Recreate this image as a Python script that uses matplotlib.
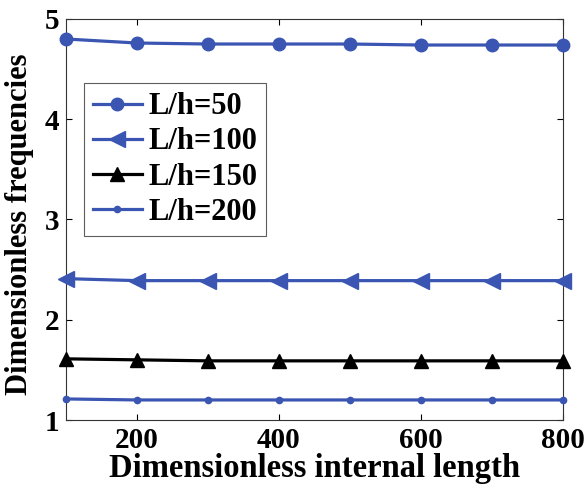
import matplotlib
matplotlib.use("Agg")
import matplotlib.pyplot as plt

x = [100, 200, 300, 400, 500, 600, 700, 800]
lh50 = [4.80, 4.76, 4.75, 4.75, 4.75, 4.74, 4.74, 4.74]
lh100 = [2.41, 2.39, 2.39, 2.39, 2.39, 2.39, 2.39, 2.39]
lh150 = [1.61, 1.60, 1.59, 1.59, 1.59, 1.59, 1.59, 1.59]
lh200 = [1.21, 1.20, 1.20, 1.20, 1.20, 1.20, 1.20, 1.20]
labels = ["L/h=50", "L/h=100", "L/h=150", "L/h=200"]

blue = "#3a55b2"
plt.rcParams['font.family'] = ['Liberation Serif', 'DejaVu Serif']
plt.rcParams['font.weight'] = 'bold'

fig = plt.figure(figsize=(5.87, 4.86), dpi=100)
ax = fig.add_axes([0.1124, 0.1358, 0.8466, 0.8252])

kw = dict(lw=2.3, clip_on=False, zorder=3)
ax.plot(x, lh50, color=blue, marker='o', ms=9, mfc=blue, mec=blue, label=labels[0], **kw)
ax.plot(x, lh100, color=blue, marker='<', ms=11, mfc=blue, mec=blue, label=labels[1], **kw)
ax.plot(x, lh150, color='black', marker='^', ms=10, mfc='black', mec='black', label=labels[2], **kw)
ax.plot(x, lh200, color=blue, marker='.', ms=9, mfc=blue, mec=blue, label=labels[3], **kw)

ax.set_xlim(100, 800)
ax.set_ylim(1, 5)
ax.set_xticks([200, 400, 600, 800])
ax.set_yticks([1, 2, 3, 4, 5])
ax.tick_params(direction='in', top=True, right=True, labelsize=21, length=4, width=0.8, pad=5)
for lab in ax.get_xticklabels() + ax.get_yticklabels():
    lab.set_fontweight('bold')
for s in ax.spines.values():
    s.set_linewidth(0.8)
    s.set_color('#333333')

ax.set_xlabel("Dimensionless internal length", fontsize=23.5, fontweight='bold', labelpad=-1)
ax.set_ylabel("Dimensionless frequencies", fontsize=22, fontweight='bold')
ax.yaxis.set_label_coords(-0.064, 0.489)

leg = ax.legend(loc='upper left', bbox_to_anchor=(0.036, 0.84), fontsize=22, frameon=True,
                fancybox=False, edgecolor='#333333', handlelength=1.6, handletextpad=0.2,
                borderpad=0.3, labelspacing=0.2, borderaxespad=0)
leg.get_frame().set_linewidth(0.8)
for t in leg.get_texts():
    t.set_fontweight('bold')

fig.savefig("out.png", dpi=100)
